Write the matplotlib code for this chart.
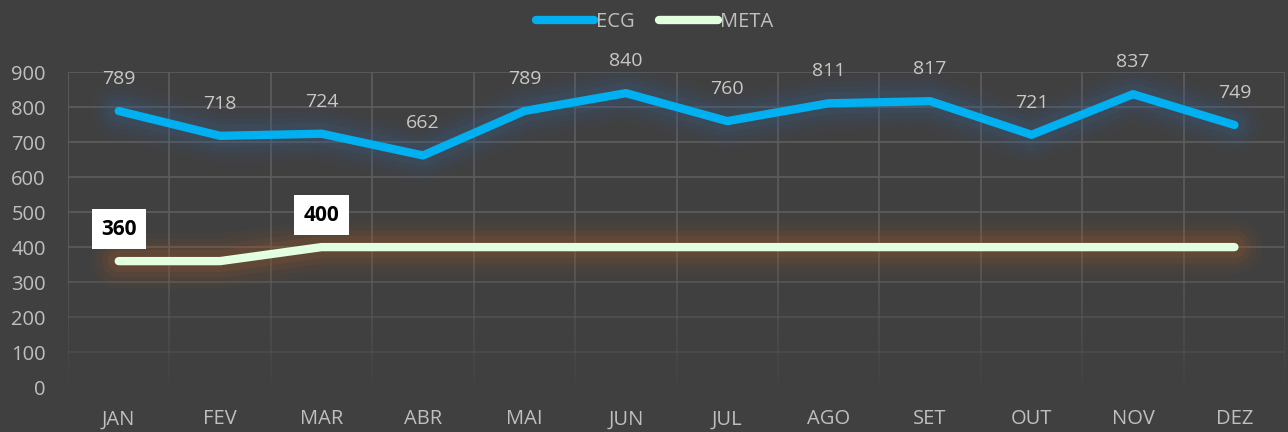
import matplotlib.pyplot as plt
import numpy as np

meses = ["JAN", "FEV", "MAR", "ABR", "MAI", "JUN", "JUL", "AGO", "SET", "OUT", "NOV", "DEZ"]
ecg = [789, 718, 724, 662, 789, 840, 760, 811, 817, 721, 837, 749]
meta = [360, 360, 400, 400, 400, 400, 400, 400, 400, 400, 400, 400]
meta_rotulos = [0, 2]  # only these points get a label

plt.rcParams['font.family'] = ['Open Sans', 'DejaVu Sans']

bg = "#404040"
fig = plt.figure(figsize=(12.88, 4.32), dpi=100, facecolor=bg)
ax = fig.add_axes([0.0528, 0.104, 0.945, 0.729], facecolor=bg)

x = np.arange(len(meses))
ax.set_xlim(-0.5, len(meses) - 0.5)
ax.set_ylim(0, 900)

# gridlines that fade out towards the bottom
grid_c = "#5e5e5e"
for v in range(100, 1000, 100):
    a = min(1.0, 0.15 + v / 500)
    ax.axhline(v, color=grid_c, lw=1.2, alpha=a, zorder=1)
nseg = 30
ys = np.linspace(0, 900, nseg + 1)
for xv in np.arange(-0.5, len(meses), 1.0):
    for i in range(nseg):
        a = min(1.0, 0.1 + ys[i] / 450)
        ax.plot([xv, xv], [ys[i], ys[i + 1]], color=grid_c, lw=1.2, alpha=a,
                solid_capstyle='butt', zorder=1)

# glow
for w, a in [(40, 0.06), (32, 0.08), (24, 0.11), (16, 0.15)]:
    ax.plot(x, ecg, color="#3a5f90", lw=w, alpha=a, solid_capstyle='round',
            solid_joinstyle='round', zorder=2)
    ax.plot(x, meta, color="#a05a28", lw=w, alpha=a, solid_capstyle='round',
            solid_joinstyle='round', zorder=2)

ax.plot(x, ecg, color="#00B0F0", lw=6, solid_capstyle='round',
        solid_joinstyle='round', zorder=3, label="ECG")
ax.plot(x, meta, color="#E2FFE0", lw=6, solid_capstyle='round',
        solid_joinstyle='round', zorder=3, label="META")

for xi, v in zip(x, ecg):
    ax.annotate(str(v), (xi, v), xytext=(0, 23), textcoords='offset points',
                ha='center', va='center', color="#c8c8c8", fontsize=14)
for i in meta_rotulos:
    ax.annotate(str(meta[i]), (x[i], meta[i]), xytext=(0, 23),
                textcoords='offset points', ha='center', va='center',
                color="black", fontsize=15, fontweight='bold',
                bbox=dict(boxstyle='square,pad=0.45', fc='white', ec='none'))

ax.set_xticks(x)
ax.set_xticklabels(meses)
ax.set_yticks(range(0, 1000, 100))
ax.tick_params(colors="#bfbfbf", labelsize=14.5, length=0)
ax.tick_params(axis='x', pad=16)
ax.tick_params(axis='y', pad=16)
for s in ax.spines.values():
    s.set_visible(False)

leg = fig.legend(loc='upper center', bbox_to_anchor=(0.508, 1.015), ncol=2,
                 frameon=False, handlelength=2.9, handletextpad=0.1,
                 columnspacing=1.2, fontsize=14.5, labelcolor="#bfbfbf")
for h in leg.get_lines():
    h.set_linewidth(6)
    h.set_solid_capstyle('round')

fig.savefig("out.png", dpi=100, facecolor=bg)
